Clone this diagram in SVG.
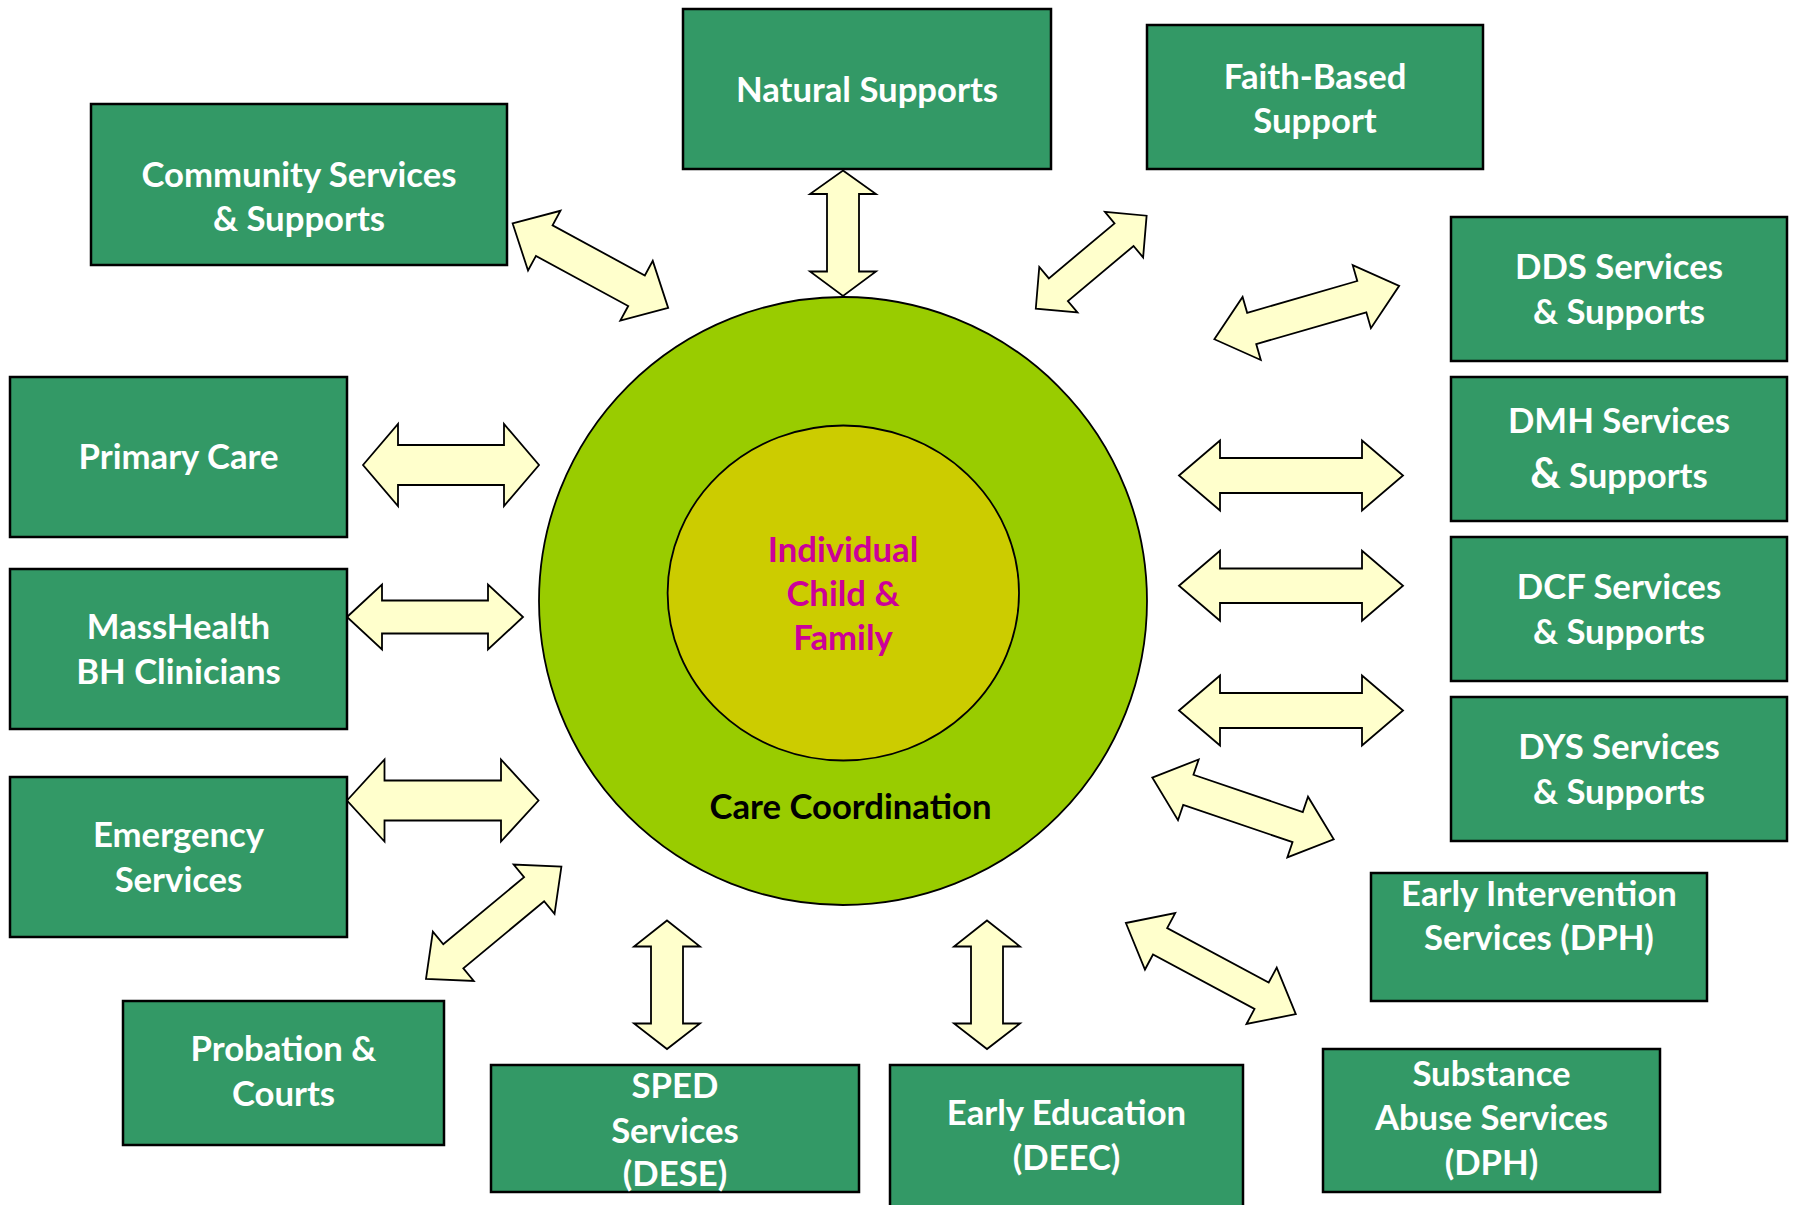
<svg xmlns="http://www.w3.org/2000/svg" width="1794" height="1205" viewBox="0 0 1794 1205">
<style>
.box{fill:#339966;stroke:#000;stroke-width:2.5}
.lbl{font-family:Lato,"Liberation Sans",sans-serif;font-weight:700;font-size:34.7px;fill:#fff;text-anchor:middle}
.arr{fill:#FFFFCC;stroke:#000;stroke-width:1.8;stroke-linejoin:miter}
.ctr{font-family:Lato,"Liberation Sans",sans-serif;font-weight:700;font-size:34.7px;text-anchor:middle}
</style>
<rect width="1794" height="1205" fill="#fff"/>
<g id="care-coordination">
<circle cx="843" cy="601" r="304" fill="#99CC00" stroke="#000" stroke-width="1.8"/>
<text class="ctr" x="850.5" y="819" fill="#000">Care Coordination</text>
</g>
<g id="individual">
<ellipse cx="843.3" cy="593" rx="175.7" ry="167.5" fill="#CCCC00" stroke="#000" stroke-width="1.8"/>
<text class="ctr" fill="#CC0099"><tspan x="843" y="561.5">Individual</tspan><tspan x="843" y="606">Child &amp;</tspan><tspan x="843" y="649.5">Family</tspan></text>
</g>
<g id="connectors">
<polygon class="arr" points="363,465 398,424 398,445 504,445 504,424 539,465 504,506 504,485 398,485 398,506"/>
<polygon class="arr" points="347,617 382,584.5 382,600.5 488,600.5 488,584.5 523,617 488,649.5 488,633.5 382,633.5 382,649.5"/>
<polygon class="arr" points="347,800.5 384.5,759.5 384.5,780.5 501,780.5 501,759.5 538.5,800.5 501,841.5 501,820.5 384.5,820.5 384.5,841.5"/>
<polygon class="arr" points="1179,475.5 1220,440.5 1220,458 1362,458 1362,440.5 1403,475.5 1362,510.5 1362,493 1220,493 1220,510.5"/>
<polygon class="arr" points="1179,585.7 1220,550.7 1220,568.5 1362,568.5 1362,550.7 1403,585.7 1362,620.7 1362,603 1220,603 1220,620.7"/>
<polygon class="arr" points="1179,710.5 1220,675.5 1220,693 1362,693 1362,675.5 1403,710.5 1362,745.5 1362,728 1220,728 1220,745.5"/>
<polygon class="arr" points="843,170.5 876,194 859,194 859,271.5 876,271.5 843,296 810,271.5 827,271.5 827,194 810,194"/>
<polygon class="arr" points="667,920.5 700,946.5 683,946.5 683,1023.5 700,1023.5 667,1049 634,1023.5 651,1023.5 651,946.5 634,946.5"/>
<polygon class="arr" points="987,920.5 1020,946.5 1003,946.5 1003,1023.5 1020,1023.5 987,1049 954,1023.5 971,1023.5 971,946.5 954,946.5"/>
<polygon class="arr" transform="translate(590.4,265.7) rotate(28.5)" points="-88.5,0 -52.5,-34 -52.5,-17.4 52.5,-17.4 52.5,-34 88.5,0 52.5,34 52.5,17.4 -52.5,17.4 -52.5,34"/>
<polygon class="arr" transform="translate(1091.2,262.2) rotate(-40)" points="-72.35,0 -42.85,-29.7 -42.85,-14.8 42.85,-14.8 42.85,-29.7 72.35,0 42.85,29.7 42.85,14.8 -42.85,14.8 -42.85,29.7"/>
<polygon class="arr" transform="translate(1306.75,312.55) rotate(-16.1)" points="-96.2,0 -57.3,-32.8 -57.3,-16.3 57.3,-16.3 57.3,-32.8 96.2,0 57.3,32.8 57.3,16.3 -57.3,16.3 -57.3,32.8"/>
<polygon class="arr" transform="translate(493.7,922.75) rotate(-39.7)" points="-88,0 -52.5,-32 -52.5,-15.7 52.5,-15.7 52.5,-32 88,0 52.5,32 52.5,15.7 -52.5,15.7 -52.5,32"/>
<polygon class="arr" transform="translate(1243,808.45) rotate(18.8)" points="-95.85,0 -57.75,-32.1 -57.75,-15.9 57.75,-15.9 57.75,-32.1 95.85,0 57.75,32.1 57.75,15.9 -57.75,15.9 -57.75,32.1"/>
<polygon class="arr" transform="translate(1210.85,968.55) rotate(28.2)" points="-96.4,0 -57.6,-32 -57.6,-15 57.6,-15 57.6,-32 96.4,0 57.6,32 57.6,15 -57.6,15 -57.6,32"/>
</g>
<g id="natural-supports">
<rect class="box" x="683" y="9" width="368" height="160"/>
<text class="lbl" x="867" y="102">Natural Supports</text>
</g>
<g id="faith-based">
<rect class="box" x="1147" y="25" width="336" height="144"/>
<text class="lbl"><tspan x="1315" y="89">Faith-Based</tspan><tspan x="1315" y="133">Support</tspan></text>
</g>
<g id="community">
<rect class="box" x="91" y="104" width="416" height="161"/>
<text class="lbl"><tspan x="299" y="186.5">Community Services</tspan><tspan x="299" y="230.5">&amp; Supports</tspan></text>
</g>
<g id="dds">
<rect class="box" x="1451" y="217" width="336" height="144"/>
<text class="lbl"><tspan x="1619" y="279">DDS Services</tspan><tspan x="1619" y="324">&amp; Supports</tspan></text>
</g>
<g id="dmh">
<rect class="box" x="1451" y="377" width="336" height="144"/>
<text class="lbl"><tspan x="1619" y="433">DMH Services</tspan><tspan x="1619" y="488"><tspan font-size="42">&amp;</tspan> Supports</tspan></text>
</g>
<g id="primary-care">
<rect class="box" x="10" y="377" width="337" height="160"/>
<text class="lbl" x="178.5" y="469">Primary Care</text>
</g>
<g id="masshealth">
<rect class="box" x="10" y="569" width="337" height="160"/>
<text class="lbl"><tspan x="178.5" y="639">MassHealth</tspan><tspan x="178.5" y="684">BH Clinicians</tspan></text>
</g>
<g id="dcf">
<rect class="box" x="1451" y="537" width="336" height="144"/>
<text class="lbl"><tspan x="1619" y="599">DCF Services</tspan><tspan x="1619" y="644">&amp; Supports</tspan></text>
</g>
<g id="dys">
<rect class="box" x="1451" y="697" width="336" height="144"/>
<text class="lbl"><tspan x="1619" y="759">DYS Services</tspan><tspan x="1619" y="804">&amp; Supports</tspan></text>
</g>
<g id="emergency">
<rect class="box" x="10" y="777" width="337" height="160"/>
<text class="lbl"><tspan x="178.5" y="847">Emergency</tspan><tspan x="178.5" y="892">Services</tspan></text>
</g>
<g id="early-intervention">
<rect class="box" x="1371" y="873" width="336" height="128"/>
<text class="lbl"><tspan x="1539" y="905.5">Early Intervention</tspan><tspan x="1539" y="949.5">Services (DPH)</tspan></text>
</g>
<g id="probation">
<rect class="box" x="123" y="1001" width="321" height="144"/>
<text class="lbl"><tspan x="283.5" y="1060.5">Probation &amp;</tspan><tspan x="283.5" y="1105.5">Courts</tspan></text>
</g>
<g id="sped">
<rect class="box" x="491" y="1065" width="368" height="127"/>
<text class="lbl"><tspan x="675" y="1098">SPED</tspan><tspan x="675" y="1142.5">Services</tspan><tspan x="675" y="1185.5">(DESE)</tspan></text>
</g>
<g id="early-education">
<rect class="box" x="890" y="1065" width="353" height="150"/>
<text class="lbl"><tspan x="1066.5" y="1125">Early Education</tspan><tspan x="1066.5" y="1170">(DEEC)</tspan></text>
</g>
<g id="substance-abuse">
<rect class="box" x="1323" y="1049" width="337" height="143"/>
<text class="lbl"><tspan x="1491.5" y="1085.5">Substance</tspan><tspan x="1491.5" y="1130">Abuse Services</tspan><tspan x="1491.5" y="1175">(DPH)</tspan></text>
</g>
</svg>
